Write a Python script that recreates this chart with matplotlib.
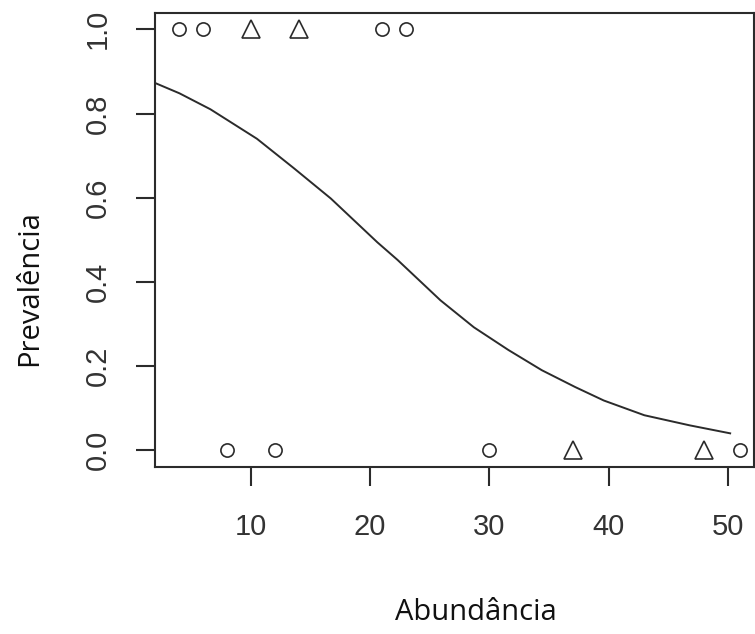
import matplotlib.pyplot as plt
import numpy as np

# observed prevalence (0/1) by abundance, two groups
abund_circ = [4, 6, 21, 23, 8, 12, 30, 51]
prev_circ = [1, 1, 1, 1, 0, 0, 0, 0]
abund_tri = [10, 14, 37, 48]
prev_tri = [1, 1, 0, 0]

# fitted curve, read along its length
curve_x = [2.0, 4.0, 6.6, 10.5, 13.6, 16.7, 20.6, 22.3, 25.9, 28.7,
           31.6, 34.4, 37.2, 39.6, 43.0, 46.8, 50.2]
curve_y = [0.872, 0.848, 0.81, 0.74, 0.67, 0.598, 0.494, 0.452, 0.356, 0.292,
           0.238, 0.190, 0.150, 0.118, 0.083, 0.059, 0.040]

xticks = [10, 20, 30, 40, 50]
yticks = [0.0, 0.2, 0.4, 0.6, 0.8, 1.0]

W, H = 755, 634
fig = plt.figure(figsize=(W / 100, H / 100), dpi=100)
ax = fig.add_axes([155 / W, (H - 467) / H, 599 / W, (467 - 12.5) / H])

ink = '#2b2b2b'
ax.plot(curve_x, curve_y, color=ink, lw=1.4)
ax.plot(abund_circ, prev_circ, 'o', ms=9.5, mfc='none', mec=ink, mew=1.2)
ax.plot(abund_tri, prev_tri, '^', ms=13, mfc='none', mec=ink, mew=1.2)

ax.set_xlim(1.95, 52.2)
ax.set_ylim(-0.04, 1.04)
ax.set_xticks(xticks)
ax.set_xticklabels([str(t) for t in xticks])
ax.set_yticks(yticks)
ax.set_yticklabels(['%.1f' % t for t in yticks], rotation=90, va='center')

for s in ax.spines.values():
    s.set_linewidth(1.5)
    s.set_color(ink)

ax.tick_params(direction='out', length=14, width=1.5, color=ink,
               labelsize=21, labelcolor='#333333')
ax.tick_params(axis='x', pad=19)
ax.tick_params(axis='y', pad=17)
for lab in ax.get_xticklabels() + ax.get_yticklabels():
    lab.set_family('Liberation Sans')

fig.text(476 / W, 1 - 613 / H, 'Abundância', ha='center', va='center',
         fontsize=21, family='Open Sans', color='#111111')
fig.text(30 / W, 1 - 288 / H, 'Prevalência', ha='center', va='center',
         rotation=90, fontsize=21, family='Open Sans', color='#111111')

fig.savefig('out.png', dpi=100)
